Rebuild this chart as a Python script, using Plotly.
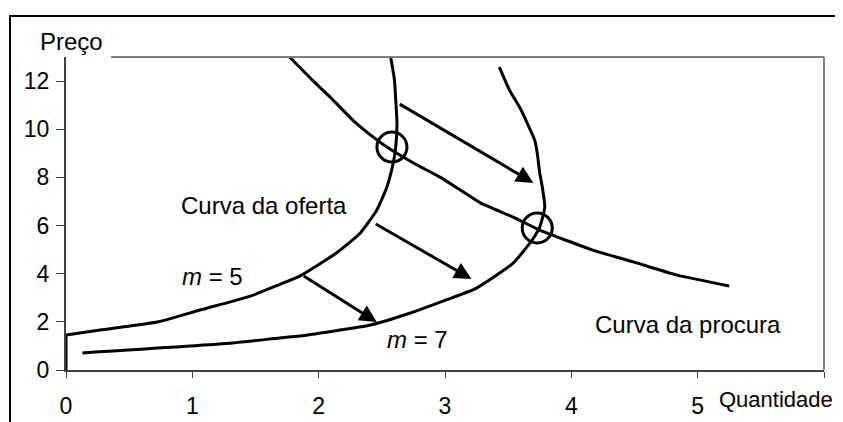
import plotly.graph_objects as go

# Supply curve m = 5
s1_x = [0, 0, 0.27, 0.72, 1.06, 1.46, 1.69, 1.85, 2.14, 2.33, 2.46, 2.54, 2.59, 2.61, 2.62, 2.61, 2.60, 2.57]
s1_y = [0, 1.45, 1.66, 1.99, 2.49, 3.07, 3.55, 3.90, 4.86, 5.69, 6.64, 7.60, 8.60, 9.26, 10.26, 11.21, 12.04, 13.0]

# Supply curve m = 7
s2_x = [0.13, 1.32, 1.69, 1.85, 2.17, 2.41, 2.75, 3.01, 3.25, 3.54, 3.69, 3.75, 3.79, 3.77, 3.75, 3.73, 3.71, 3.65, 3.59, 3.51, 3.43]
s2_y = [0.71, 1.12, 1.33, 1.41, 1.66, 1.87, 2.41, 2.91, 3.40, 4.44, 5.40, 5.94, 6.77, 7.60, 8.18, 9.01, 9.55, 10.26, 10.92, 11.63, 12.58]

# Demand curve
d_x = [1.77, 1.95, 2.09, 2.27, 2.43, 2.54, 2.75, 2.96, 3.12, 3.28, 3.54, 3.75, 4.17, 4.49, 4.83, 5.25]
d_y = [13.0, 12.04, 11.34, 10.38, 9.68, 9.26, 8.60, 8.01, 7.48, 6.94, 6.35, 5.81, 4.98, 4.49, 3.95, 3.49]

# Equilibrium points (circled)
eq_x = [2.58, 3.73]
eq_y = [9.26, 5.90]

# Shift arrows (start -> end)
arrow_x0 = [2.63, 2.44, 1.87]
arrow_y0 = [11.08, 6.10, 3.94]
arrow_x1 = [3.70, 3.21, 2.46]
arrow_y1 = [7.77, 3.78, 1.99]

x_ticks = [0, 1, 2, 3, 4, 5, 6]
x_tick_text = ["0", "1", "2", "3", "4", "5", ""]
y_ticks = [0, 2, 4, 6, 8, 10, 12]

FONT = "Liberation Sans, Arial, sans-serif"
# The page body adds an 8px margin; the figure is sized so that it fills the window exactly.
OFF = 8
W, H = 843 - OFF, 422 - OFF
L, R, T, B = 66 - OFF, 843 - 824, 57 - OFF, 422 - 370
PW, PH = W - L - R, H - T - B


def px_to_paper_x(px):
    return (px - 66) / PW


def px_to_paper_y(py):
    return (370 - py) / PH


fig = go.Figure()
line_style = dict(color="black", width=3, shape="spline", smoothing=0.5)
fig.add_trace(go.Scatter(x=s1_x[1:], y=s1_y[1:], mode="lines", line=line_style, showlegend=False))
fig.add_trace(go.Scatter(x=s1_x[:2], y=s1_y[:2], mode="lines", line=dict(color="black", width=3), showlegend=False))
fig.add_trace(go.Scatter(x=s2_x, y=s2_y, mode="lines", line=line_style, showlegend=False))
fig.add_trace(go.Scatter(x=d_x, y=d_y, mode="lines", line=line_style, showlegend=False))
fig.add_trace(go.Scatter(x=eq_x, y=eq_y, mode="markers", showlegend=False,
                         marker=dict(symbol="circle-open", size=30, color="black",
                                     line=dict(color="black", width=3))))

annotations = []
for x0, y0, x1, y1 in zip(arrow_x0, arrow_y0, arrow_x1, arrow_y1):
    annotations.append(dict(x=x1, y=y1, ax=x0, ay=y0, xref="x", yref="y", axref="x", ayref="y",
                            text="", showarrow=True, arrowhead=2, arrowsize=1.15, arrowwidth=3,
                            arrowcolor="black", standoff=0, startstandoff=0))

txt = dict(font=dict(family=FONT, size=24, color="black"), showarrow=False,
           xanchor="center", yanchor="middle")
txt2 = dict(font=dict(family=FONT, size=22, color="black"), showarrow=False,
            xanchor="center", yanchor="middle")
annotations += [
    dict(x=1.57, y=6.85, xref="x", yref="y", text="Curva da oferta", **txt),
    dict(x=1.16, y=3.87, xref="x", yref="y", text="<i>m</i> = 5", **txt),
    dict(x=2.78, y=1.25, xref="x", yref="y", text="<i>m</i> = 7", **txt),
    dict(x=4.92, y=1.87, xref="x", yref="y", text="Curva da procura", **txt),
    dict(x=px_to_paper_x(71), y=px_to_paper_y(42), xref="paper", yref="paper", text="Preço", **txt),
    dict(x=px_to_paper_x(776), y=px_to_paper_y(399), xref="paper", yref="paper", text="Quantidade", **txt2),
]

shapes = [
    # outer chart frame
    dict(type="rect", xref="paper", yref="paper", x0=px_to_paper_x(10), x1=1.3, y0=-0.5,
         y1=px_to_paper_y(16), line=dict(color="black", width=2), layer="below"),
    # plot area border (top and right)
    dict(type="line", xref="paper", yref="paper", x0=px_to_paper_x(111), x1=1, y0=1, y1=1,
         line=dict(color="#808080", width=2)),
    dict(type="line", xref="paper", yref="paper", x0=1, x1=1, y0=0, y1=1,
         line=dict(color="#808080", width=2)),
]

fig.update_layout(
    width=W, height=H,
    margin=dict(l=L, r=R, t=T, b=B, autoexpand=False),
    paper_bgcolor="white", plot_bgcolor="white",
    font=dict(family=FONT, size=23, color="black"),
    annotations=annotations, shapes=shapes,
    xaxis=dict(range=[0, 6], tickvals=x_ticks, ticktext=x_tick_text, showgrid=False, zeroline=False,
               showline=True, linecolor="#404040", linewidth=2, ticks="outside", ticklen=6,
               tickwidth=1, tickcolor="#404040", tickfont=dict(size=23), ticklabelstandoff=8,
               automargin=False),
    yaxis=dict(range=[0, 13], tickvals=y_ticks, showgrid=False, zeroline=False,
               showline=True, linecolor="#404040", linewidth=2, ticks="outside", ticklen=8,
               tickwidth=1, tickcolor="#404040", tickfont=dict(size=23), ticklabelstandoff=2,
               automargin=False),
)

fig.write_html("out.html")
